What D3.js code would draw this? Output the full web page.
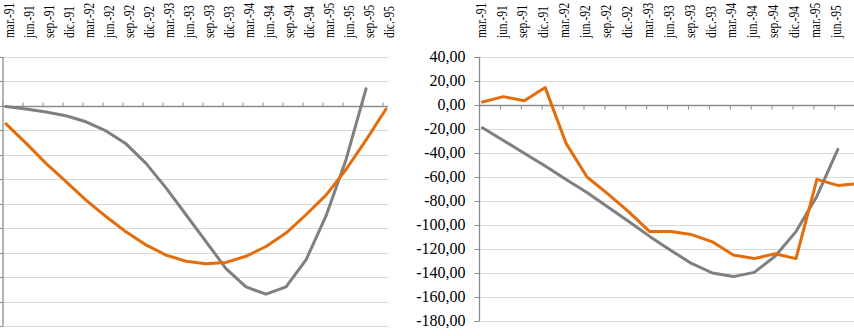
<!DOCTYPE html>
<html>
<head>
<meta charset="utf-8">
<script src="https://cdnjs.cloudflare.com/ajax/libs/d3/7.8.5/d3.min.js"></script>
<style>
  html, body { margin: 0; padding: 0; background: #fff; }
  svg { display: block; }
  text { font-family: "Liberation Serif", "Times New Roman", serif; fill: #000; }
</style>
</head>
<body>
<svg id="chart" width="854" height="336"></svg>
<script>
// ---------- DATA ----------
const leftCategories = ["mar.-91","jun.-91","sep.-91","dic.-91","mar.-92","jun.-92","sep.-92","dic.-92",
  "mar.-93","jun.-93","sep.-93","dic.-93","mar.-94","jun.-94","sep.-94","dic.-94",
  "mar.-95","jun.-95","sep.-95","dic.-95"];
const leftGray = [-0.5, -2.5, -5, -8, -13, -20.5, -31, -47, -67, -89, -111, -133, -148, -154, -148, -126, -90, -44, 14];
const leftOrange = [-14.7, -30.5, -47, -62, -77, -90.5, -103, -113.7, -122, -127, -129, -128, -123, -115, -104, -89, -73, -52, -28, -2.5];

const rightCategories = ["mar.-91","jun.-91","sep.-91","dic.-91","mar.-92","jun.-92","sep.-92","dic.-92",
  "mar.-93","jun.-93","sep.-93","dic.-93","mar.-94","jun.-94","sep.-94","dic.-94",
  "mar.-95","jun.-95","sep.-95"];
const rightTickLabels = ["mar.-91","jun.-91","sep.-91","dic.-91","mar.-92","jun.-92","sep.-92","dic.-92",
  "mar.-93","jun.-93","sep.-93","dic.-93","mar.-94","jun.-94","sep.-94","dic.-94",
  "mar.-95","jun.-95"];
const rightGray = [-19, -29.6, -40.2, -50.8, -62, -73, -85, -97, -109.5, -121, -132, -140, -143, -139.5, -126, -105.5, -76, -37];
const rightOrange = [2.5, 7, 3.5, 14.5, -32, -60, -74, -89, -105.5, -105.5, -108, -114, -125, -128, -124, -128, -62, -67, -65.5];

const yTickValues = [40, 20, 0, -20, -40, -60, -80, -100, -120, -140, -160, -180];
const yTickLabels = ["40,00","20,00","0,00","-20,00","-40,00","-60,00","-80,00","-100,00","-120,00","-140,00","-160,00","-180,00"];

// ---------- STYLE ----------
const ORANGE = "#E46C0A";
const GRAY = "#7F7F7F";
const GRID = "#D9D9D9";
const AXIS = "#8C8C8C";

const svg = d3.select("#chart");

function panel(cfg) {
  const g = svg.append("g");
  const x = d3.scalePoint().domain(cfg.categories)
    .range([cfg.x0, cfg.x0 + cfg.step * (cfg.categories.length - 1)]);
  const y = d3.scaleLinear().domain([-180, 40]).range([cfg.yBottom, cfg.yTop]);

  // gridlines
  g.selectAll("line.grid").data(yTickValues.filter(v => v !== 0)).join("line")
    .attr("x1", cfg.axisX).attr("x2", cfg.gridRight)
    .attr("y1", d => Math.round(y(d)) + 0.5).attr("y2", d => Math.round(y(d)) + 0.5)
    .attr("stroke", GRID).attr("stroke-width", 1);

  // y axis line
  g.append("line").attr("x1", cfg.axisX).attr("x2", cfg.axisX)
    .attr("y1", y(40)).attr("y2", y(-180)).attr("stroke", AXIS).attr("stroke-width", 1.3);
  // y ticks
  g.selectAll("line.yt").data(yTickValues).join("line")
    .attr("x1", cfg.axisX - 5).attr("x2", cfg.axisX)
    .attr("y1", d => Math.round(y(d)) + 0.5).attr("y2", d => Math.round(y(d)) + 0.5)
    .attr("stroke", AXIS).attr("stroke-width", 1);
  if (cfg.showYLabels) {
    g.selectAll("text.yl").data(yTickValues).join("text")
      .attr("x", cfg.axisX - 14).attr("y", d => y(d)).attr("dy", "0.34em")
      .attr("text-anchor", "end").attr("font-size", 16)
      .text((d, i) => yTickLabels[i]);
  }

  // x axis (zero line)
  const y0 = Math.round(y(0)) + 0.5;
  g.append("line").attr("x1", cfg.axisX).attr("x2", cfg.gridRight)
    .attr("y1", y0).attr("y2", y0).attr("stroke", AXIS).attr("stroke-width", 1.3);
  g.selectAll("line.xt").data(cfg.tickLabels).join("line")
    .attr("x1", d => x(d) - 3).attr("x2", d => x(d) - 3)
    .attr("y1", y0).attr("y2", y0 + cfg.tickDir * 4)
    .attr("stroke", AXIS).attr("stroke-width", 1);
  g.selectAll("text.xl").data(cfg.tickLabels).join("text")
    .attr("transform", d => `translate(${x(d) - 3 + cfg.labelShift},38) rotate(-90) scale(0.76,1)`)
    .attr("dy", "0.36em").attr("text-anchor", "start").attr("font-size", 15)
    .text(d => d);

  // series
  const line = d3.line().x((d, i) => x(cfg.categories[i])).y(d => y(d));
  cfg.series.forEach(s => {
    g.append("path").datum(s.values).attr("d", line)
      .attr("fill", "none").attr("stroke", s.color).attr("stroke-width", 3)
      .attr("stroke-linejoin", "round").attr("stroke-linecap", "round");
  });
}

panel({
  categories: leftCategories, tickLabels: leftCategories,
  x0: 6, step: 20, axisX: 3, gridRight: 388, labelShift: 6,
  yTop: 57, yBottom: 326, tickDir: -1, showYLabels: false,
  series: [{values: leftGray, color: GRAY}, {values: leftOrange, color: ORANGE}]
});

panel({
  categories: rightCategories, tickLabels: rightTickLabels,
  x0: 482.5, step: 20.9, axisX: 479.5, gridRight: 860, labelShift: 0.7,
  yTop: 57, yBottom: 321, tickDir: 1, showYLabels: true,
  series: [{values: rightGray, color: GRAY}, {values: rightOrange, color: ORANGE}]
});
</script>
</body>
</html>
